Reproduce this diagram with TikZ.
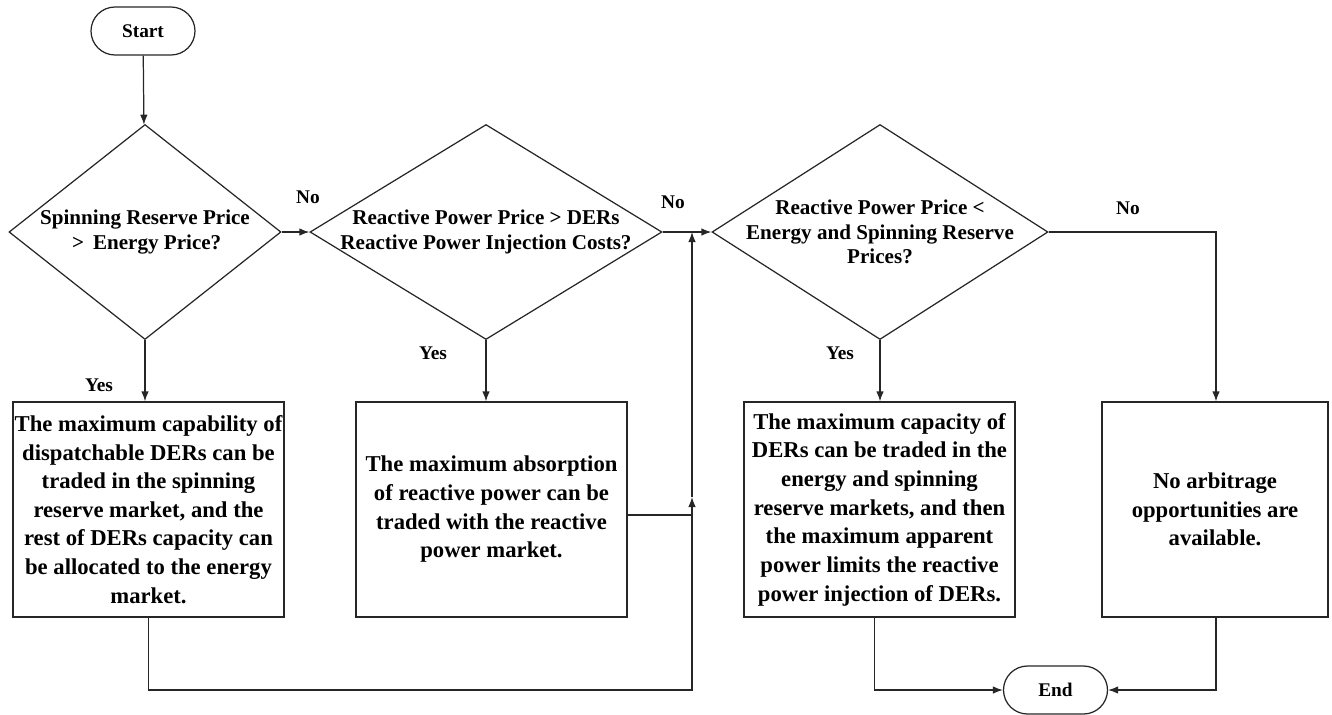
\documentclass[tikz,border=0pt]{standalone}
\usepackage{fontspec}
\setmainfont{Liberation Serif}
\usepackage{tikz}
\usetikzlibrary{arrows.meta, shapes.geometric}

\begin{document}
\begin{tikzpicture}[
  terminal/.style={rectangle, draw=black!85, line width=0.7pt, rounded corners=0.48cm,
                   minimum width=2.08cm, minimum height=0.96cm, inner sep=0pt,
                   font=\bfseries\fontsize{11}{13}\selectfont},
  decision/.style={diamond, draw=black!85, line width=0.7pt, inner sep=-0.3cm,
                   align=center, minimum height=4.3cm,
                   font=\bfseries\fontsize{12}{13.8}\selectfont},
  process/.style={rectangle, draw=black!85, line width=0.7pt, inner sep=0pt,
                  align=center, minimum width=5.42cm, minimum height=4.3cm,
                  font=\bfseries\fontsize{12.9}{16.3}\selectfont},
  answer/.style={font=\bfseries\fontsize{11}{13}\selectfont},
  flow/.style={line width=0.7pt, black!85, -{Latex[length=2mm, width=1.5mm]}},
  link/.style={line width=0.7pt, black!85},
]
\useasboundingbox (0,0) rectangle (26.64,-14.28);

\node[terminal] (start) at (2.86, -0.62) {Start};

\node[decision, minimum width=5.44cm, aspect=1.27] (d1) at (2.9, -4.64)
  {Spinning Reserve Price\\ \,>\, Energy Price?};
\node[decision, minimum width=7.04cm, aspect=1.64] (d2) at (9.72, -4.64)
  {Reactive Power Price > DERs\\ Reactive Power Injection Costs?};
\node[decision, minimum width=6.72cm, aspect=1.56] (d3) at (17.6, -4.64)
  {Reactive Power Price <\\ Energy and Spinning Reserve\\ Prices?};

\node[process] (b1) at (2.97, -10.19)
  {The maximum capability of\\ dispatchable DERs can be\\ traded in the spinning\\
   reserve market, and the\\ rest of DERs capacity can\\ be allocated to the energy\\ market.};
\node[process] (b2) at (9.83, -10.19)
  {The maximum absorption\\ of reactive power can be\\ traded with the reactive\\ power market.};
\node[process] (b3) at (17.59, -10.19)
  {The maximum capacity of\\ DERs can be traded in the\\ energy and spinning\\
   reserve markets, and then\\ the maximum apparent\\ power limits the reactive\\ power injection of DERs.};
\node[process, minimum width=4.52cm] (b4) at (24.3, -10.19)
  {No arbitrage\\ opportunities are\\ available.};

\node[terminal] (end) at (21.11, -13.8) {End};

\node[answer] (no1) at (6.16, -3.94) {No};
\node[answer] (no2) at (13.46, -4.04) {No};
\node[answer] (no3) at (22.56, -4.16) {No};
\node[answer] (yes1) at (1.98, -7.7) {Yes};
\node[answer] (yes2) at (8.66, -7.06) {Yes};
\node[answer] (yes3) at (16.8, -7.06) {Yes};

\coordinate (j0) at (13.84, -13.8);
\coordinate (j1) at (13.84, -10.3);
\coordinate (jm) at (13.84, -9.94);
\coordinate (j2) at (13.84, -4.64);
\coordinate (r4) at (24.32, -4.64);

\draw[flow] (start) -- (d1);
\draw[flow] (d1.east) -- (d2.west);
\draw[flow] (d2.east) -- (d3.west);
\draw[flow] (d3.east) -- (r4) -- (r4 |- b4.north);
\draw[flow] (d1.south) -- (d1.south |- b1.north);
\draw[flow] (d2.south) -- (d2.south |- b2.north);
\draw[flow] (d3.south) -- (d3.south |- b3.north);

\draw[flow] (b1.south) |- (j0) -- (jm);
\draw[link] (b2.east |- j1) -- (j1);
\draw[flow] (jm) -- (j2);
\draw[flow] ([xshift=-0.1cm]b3.south) |- (end.west);
\draw[flow] (r4 |- b4.south) |- (end.east);

\end{tikzpicture}
\end{document}
